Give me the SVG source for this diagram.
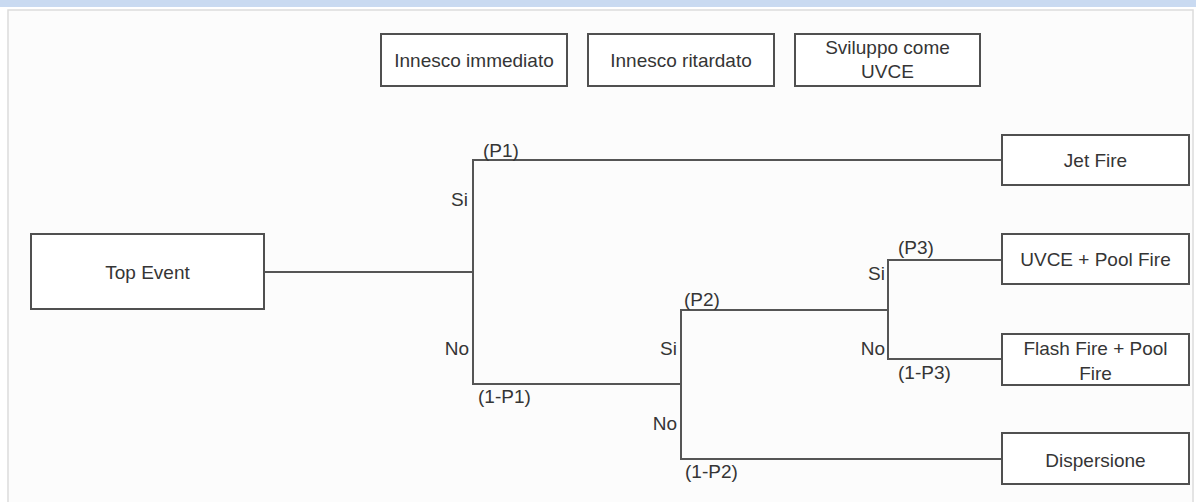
<svg xmlns="http://www.w3.org/2000/svg" width="1196" height="502" viewBox="0 0 1196 502">
  <style>
    .box { fill: #ffffff; stroke: #505050; stroke-width: 2; }
    .conn { fill: none; stroke: #555555; stroke-width: 2; stroke-linecap: square; }
    text { font-family: "Liberation Sans", Arial, sans-serif; font-size: 19px; fill: #353535; }
    .c { text-anchor: middle; }
    .e { text-anchor: end; }
  </style>
  <rect x="0" y="0" width="1196" height="502" fill="#ffffff"/>
  <rect x="0" y="0" width="1196" height="7" fill="#c9daf1"/>
  <rect x="8" y="10" width="1185" height="500" fill="#fcfcfc" stroke="#dcdcdc" stroke-width="1.5"/>

  <g id="connectors">
    <path class="conn" d="M264 272 H473"/>
    <path class="conn" d="M1002 160 H473 V384 H681"/>
    <path class="conn" d="M888 310 H681 V459 H1002"/>
    <path class="conn" d="M1002 260 H888 V359 H1002"/>
  </g>

  <g id="labels">
    <text x="483" y="157">(P1)</text>
    <text class="e" x="468" y="206">Si</text>
    <text class="e" x="469" y="355">No</text>
    <text x="478" y="403">(1-P1)</text>
    <text x="684" y="306">(P2)</text>
    <text class="e" x="677" y="355">Si</text>
    <text class="e" x="677" y="430">No</text>
    <text x="685" y="478">(1-P2)</text>
    <text x="898" y="254">(P3)</text>
    <text class="e" x="885" y="280">Si</text>
    <text class="e" x="885" y="355">No</text>
    <text x="898" y="379">(1-P3)</text>
  </g>

  <g id="hdr-immediato">
    <rect class="box" x="381" y="34" width="186" height="52"/>
    <text class="c" x="474" y="67">Innesco immediato</text>
  </g>
  <g id="hdr-ritardato">
    <rect class="box" x="588" y="34" width="186" height="52"/>
    <text class="c" x="681" y="67">Innesco ritardato</text>
  </g>
  <g id="hdr-uvce">
    <rect class="box" x="795" y="34" width="185" height="52"/>
    <text class="c" x="887.5" y="54">Sviluppo come</text>
    <text class="c" x="887.5" y="78">UVCE</text>
  </g>

  <g id="top-event">
    <rect class="box" x="31" y="234" width="233" height="75"/>
    <text class="c" x="147.5" y="278.5">Top Event</text>
  </g>

  <g id="jet-fire">
    <rect class="box" x="1002" y="135" width="187" height="50"/>
    <text class="c" x="1095.5" y="167">Jet Fire</text>
  </g>
  <g id="uvce-pool-fire">
    <rect class="box" x="1002" y="234" width="187" height="50"/>
    <text class="c" x="1095.5" y="266">UVCE + Pool Fire</text>
  </g>
  <g id="flash-fire-pool-fire">
    <rect class="box" x="1002" y="334" width="187" height="51"/>
    <text class="c" x="1095.5" y="355">Flash Fire + Pool</text>
    <text class="c" x="1095.5" y="380">Fire</text>
  </g>
  <g id="dispersione">
    <rect class="box" x="1002" y="433" width="187" height="51"/>
    <text class="c" x="1095.5" y="467">Dispersione</text>
  </g>
</svg>
